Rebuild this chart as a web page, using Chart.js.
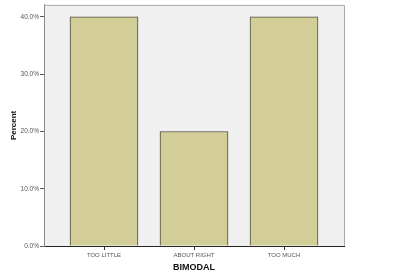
<!DOCTYPE html>
<html><head><meta charset="utf-8">
<script src="https://cdn.jsdelivr.net/npm/chart.js@4/dist/chart.umd.min.js"></script>
<style>html,body{margin:0;padding:0;background:#fff}#wrap{width:400px;height:280px}</style>
</head><body><div id="wrap"><canvas id="c" width="400" height="280"></canvas></div>
<script>
const categories = ["TOO LITTLE", "ABOUT RIGHT", "TOO MUCH"];
const percents = [40, 20, 40];
const yTicks = [0, 10, 20, 30, 40];
const xTitle = "BIMODAL";
const yTitle = "Percent";

const bgPlugin = {
  id: 'bg',
  beforeDraw(chart) {
    const {ctx, chartArea: a} = chart;
    ctx.save();
    ctx.fillStyle = '#f0f0f0';
    ctx.fillRect(a.left, a.top, a.right - a.left, a.bottom - a.top);
    ctx.restore();
  },
  afterDatasetsDraw(chart) {
    const {ctx, chartArea: a} = chart;
    ctx.save();
    ctx.lineWidth = 1;
    ctx.strokeStyle = '#a8a8a8';
    ctx.beginPath();
    ctx.moveTo(a.left, a.top + 0.5);
    ctx.lineTo(a.right + 0.5, a.top + 0.5);
    ctx.lineTo(a.right + 0.5, a.bottom);
    ctx.stroke();
    ctx.restore();
  }
};

new Chart(document.getElementById('c'), {
  type: 'bar',
  data: {
    datasets: [{
      data: categories.map((c, i) => ({x: i, y: percents[i]})),
      backgroundColor: '#d3ce97',
      borderColor: '#4b4a3c',
      borderWidth: 1,
      barThickness: 68
    }]
  },
  plugins: [bgPlugin],
  options: {
    responsive: false,
    animation: false,
    devicePixelRatio: 1,
    layout: {padding: {top: 4, right: 56, left: 0, bottom: 0}},
    plugins: {legend: {display: false}, tooltip: {enabled: false}},
    scales: {
      x: {
        type: 'linear',
        offset: false,
        min: -2/3,
        max: 8/3,
        afterBuildTicks(scale) { scale.ticks = categories.map((c, i) => ({value: i})); },
        afterFit(scale) { scale.height = 34; },
        ticks: {
          callback: (v) => categories[v],
          font: {family: 'Liberation Sans', size: 6},
          color: '#555',
          maxRotation: 0,
          padding: 2
        },
        grid: {offset: false, drawOnChartArea: false, tickLength: 4, color: '#333', tickColor: '#333'},
        border: {color: '#222', width: 1},
        title: {display: true, text: xTitle, font: {family: 'Liberation Sans', size: 9, weight: 'bold'}, color: '#111', padding: {top: 4, bottom: 7}}
      },
      y: {
        min: 0,
        max: 42.1,
        afterBuildTicks(scale) { scale.ticks = yTicks.map(v => ({value: v})); },
        afterFit(scale) { scale.width = 44; },
        ticks: {
          callback: (v) => v.toFixed(1) + '%',
          font: {family: 'Liberation Sans', size: 6.5},
          color: '#555',
          padding: 1
        },
        grid: {drawOnChartArea: false, tickLength: 4, color: '#555', tickColor: '#555'},
        border: {color: '#888', width: 1},
        title: {display: true, text: yTitle, font: {family: 'Liberation Sans', size: 8, weight: 'bold'}, color: '#111', padding: {top: 9, bottom: 4}}
      }
    }
  }
});
</script></body></html>
